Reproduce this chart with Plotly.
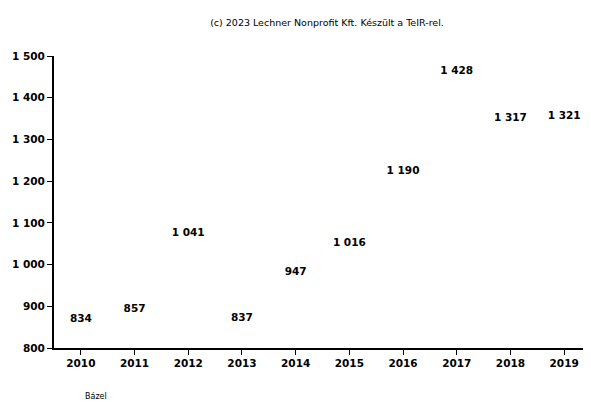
import plotly.graph_objects as go

# adatok a képről
evek = ["2010", "2011", "2012", "2013", "2014", "2015", "2016", "2017", "2018", "2019"]
ertekek = [834, 857, 1041, 837, 947, 1016, 1190, 1428, 1317, 1321]
cim = "(c) 2023 Lechner Nonprofit Kft. Készült a TeIR-rel."
telepules = "Bázel"

fig = go.Figure()

fig.add_trace(go.Scatter(
    x=evek, y=ertekek,
    mode="markers+text",
    marker=dict(size=13, color="rgba(0,0,0,0)"),
    texttemplate="%{y:,}",
    textposition="top center",
    textfont=dict(family="DejaVu Sans", size=10.5, color="black", weight="bold"),
    hoverinfo="skip",
    showlegend=False,
    cliponaxis=False,
))

# az oldal 8 px-es margója miatt minden 8 px-szel feljebb/balra van
fig.update_layout(
    width=591, height=402,
    paper_bgcolor="white", plot_bgcolor="white",
    separators=". ",
    margin=dict(l=46, r=8, t=48, b=62, autoexpand=False),
    font=dict(family="DejaVu Sans", size=10, color="black"),
    title=dict(text=cim, x=319 / 591, xanchor="center", y=1 - 15 / 402, yanchor="middle",
               font=dict(size=9.5, color="black")),
    xaxis=dict(type="category", range=[-0.5, 9.5], showline=True, linecolor="black",
               linewidth=1.5, ticks="outside", ticklen=5, tickcolor="black",
               showgrid=False, zeroline=False, automargin=False,
               tickfont=dict(size=10.5, weight="bold")),
    yaxis=dict(range=[800, 1500], dtick=100, tickformat=",", showline=True,
               linecolor="black", linewidth=2, ticks="outside", ticklen=5,
               tickcolor="black", showgrid=False, zeroline=False, automargin=False,
               tickfont=dict(size=10.5, weight="bold")),
)

fig.add_annotation(text=telepules, xref="paper", yref="paper", x=(75 - 46) / 537,
                   y=(340 - 388) / 292, xanchor="left", yanchor="middle", showarrow=False,
                   font=dict(size=8, color="black"))

fig.write_html("out.html")
